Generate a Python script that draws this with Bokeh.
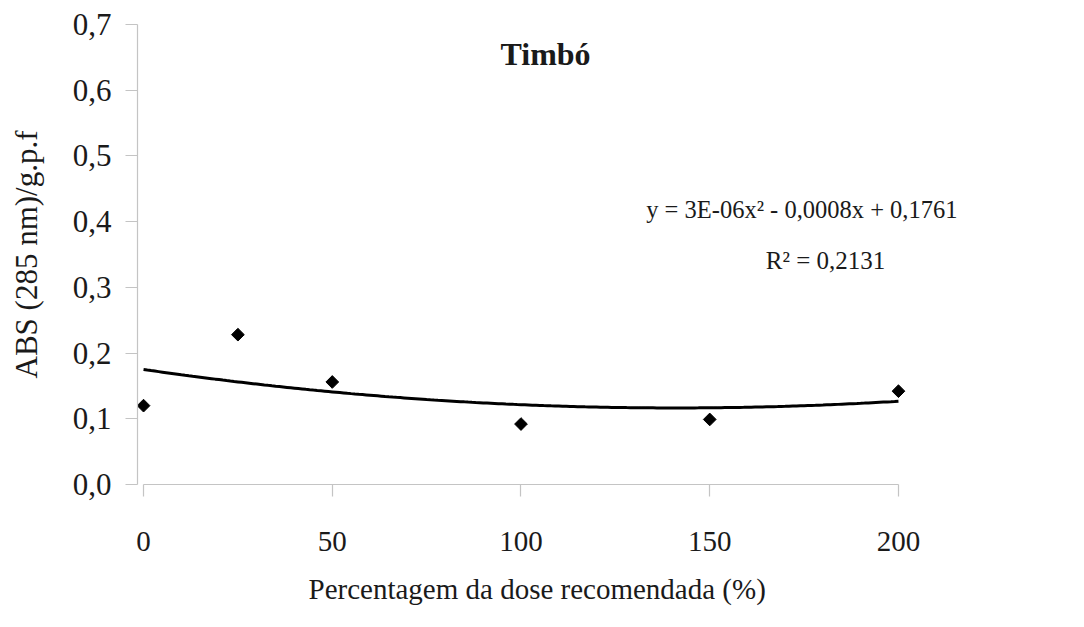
import numpy as np
from bokeh.plotting import figure
from bokeh.models import (Range1d, FixedTicker, CustomJSTickFormatter, Label, Title,
                          InlineStyleSheet)
from bokeh.embed import file_html
from bokeh.resources import INLINE

# Data
dose = [0, 25, 50, 100, 150, 200]
abs_values = [0.120, 0.228, 0.156, 0.092, 0.099, 0.142]
x_ticks = [0, 50, 100, 150, 200]
y_ticks = [0.0, 0.1, 0.2, 0.3, 0.4, 0.5, 0.6, 0.7]
title_text = "Timbó"
equation_text = "y = 3E-06x² - 0,0008x + 0,1761"
r2_text = "R² = 0,2131"
x_label = "Percentagem da dose recomendada (%)"
y_label = "ABS (285 nm)/g.p.f"

FONT = "Liberation Serif"
SERIF = "'Liberation Serif', 'Times New Roman', serif"
TXT = "#1a1a1a"
AXIS_GRAY = "#c4c4c4"

p = figure(width=1068, height=622, output_backend="svg", toolbar_location=None,
           x_range=Range1d(-1.6, 242.4), y_range=Range1d(0, 0.7),
           min_border_left=137, min_border_right=10, min_border_top=24,
           min_border_bottom=138)
p.outline_line_color = None
p.xgrid.grid_line_color = None
p.ygrid.grid_line_color = None
p.background_fill_color = "white"
p.border_fill_color = "white"

# make every text of the chart use the serif face
css = ("* { --base-font: 'Liberation Serif', serif; font-family: 'Liberation Serif', serif; } "
       ":host { --base-font: 'Liberation Serif', serif; font-family: 'Liberation Serif', serif; } "
       "svg text { font-family: 'Liberation Serif', serif !important; }")
p.stylesheets = [InlineStyleSheet(css=css)]

for ax in (p.xaxis[0], p.yaxis[0]):
    ax.axis_line_color = AXIS_GRAY
    ax.axis_line_width = 1.2
    ax.major_tick_line_color = AXIS_GRAY
    ax.major_tick_line_width = 1.2
    ax.major_tick_in = 0
    ax.major_tick_out = 12
    ax.minor_tick_line_color = None
    ax.major_label_text_color = TXT
    ax.axis_label_text_font_style = "normal"
    ax.axis_label_text_color = TXT

p.xaxis.major_label_text_font = SERIF
p.xaxis.major_label_text_font_size = "29px"
p.yaxis.major_label_text_font = SERIF
p.yaxis.major_label_text_font_size = "31px"
p.yaxis.axis_label_text_font = SERIF
p.yaxis.axis_label_text_font_size = "31px"

p.xaxis.bounds = (0, 200)
p.xaxis.ticker = FixedTicker(ticks=x_ticks)
p.yaxis.ticker = FixedTicker(ticks=y_ticks)
p.yaxis.formatter = CustomJSTickFormatter(code="return tick.toFixed(1).replace('.', ',');")
p.xaxis.major_label_standoff = 35
p.yaxis.major_label_standoff = 14
p.yaxis.axis_label = y_label
p.yaxis.axis_label_standoff = 26

# x-axis title as a panel title so it can be positioned like the original
p.add_layout(Title(text=x_label, align="left", offset=171, standoff=34,
                   vertical_align="bottom", text_font=SERIF,
                   text_font_size="29px", text_font_style="normal",
                   text_color=TXT), "below")

# Trend line (2nd order polynomial fit, as in the original spreadsheet)
coef = np.polyfit(dose, abs_values, 2)
xs = np.linspace(min(dose), max(dose), 201)
p.line(xs, np.polyval(coef, xs), line_color="black", line_width=3)

# Points
p.scatter(dose, abs_values, marker="square", angle=np.pi / 4, size=9,
          fill_color="black", line_color="black")

p.add_layout(Label(x=106.5, y=0.655, text=title_text, text_font=FONT,
                   text_font_size="32px", text_font_style="bold",
                   text_color=TXT, text_align="center", text_baseline="alphabetic"))
p.add_layout(Label(x=174.4, y=0.418, text=equation_text, text_font=FONT,
                   text_font_size="24.5px", text_color=TXT,
                   text_align="center", text_baseline="alphabetic"))
p.add_layout(Label(x=180.7, y=0.341, text=r2_text, text_font=FONT,
                   text_font_size="25px", text_color=TXT,
                   text_align="center", text_baseline="alphabetic"))

open("out.html", "w").write(file_html(p, INLINE))
